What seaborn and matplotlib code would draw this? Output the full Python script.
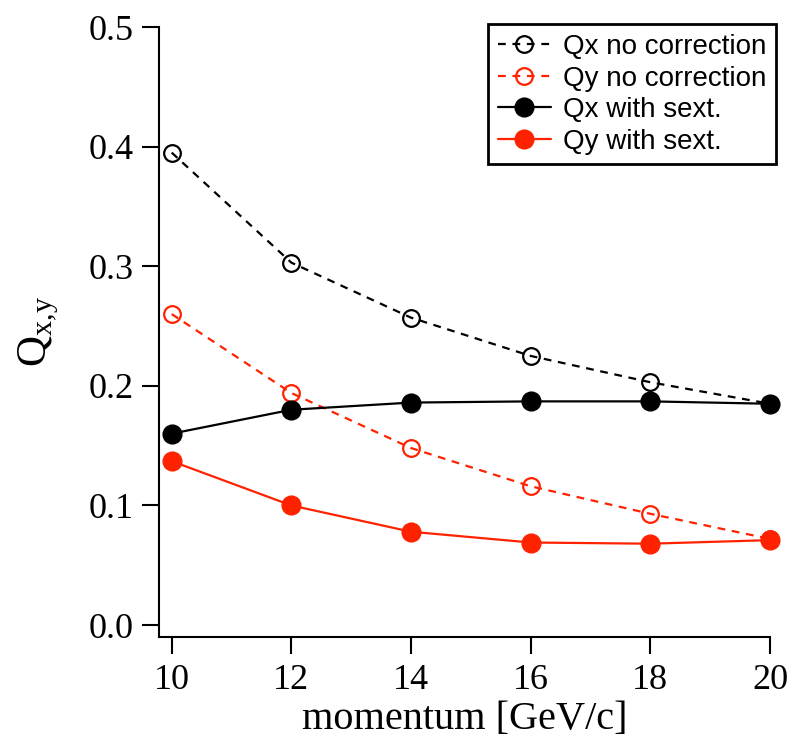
import matplotlib
matplotlib.use("Agg")
import matplotlib.pyplot as plt
import seaborn as sns
import pandas as pd

momentum = [10, 12, 14, 16, 18, 20]
qx_no_corr = [0.395, 0.303, 0.257, 0.225, 0.203, 0.185]
qy_no_corr = [0.260, 0.194, 0.148, 0.116, 0.093, 0.072]
qx_sext = [0.160, 0.180, 0.186, 0.187, 0.187, 0.185]
qy_sext = [0.137, 0.100, 0.078, 0.069, 0.068, 0.071]
labels = ["Qx no correction", "Qy no correction", "Qx with sext.", "Qy with sext."]
x_ticks = [10, 12, 14, 16, 18, 20]
y_ticks = [0.0, 0.1, 0.2, 0.3, 0.4, 0.5]

sns.set_style("ticks")
plt.rcParams["font.family"] = ["Liberation Serif", "DejaVu Serif"]
plt.rcParams["mathtext.fontset"] = "custom"
plt.rcParams["mathtext.rm"] = "Liberation Serif"
plt.rcParams["text.color"] = "black"
plt.rcParams["axes.labelcolor"] = "black"

RED = "#ff2200"
fig = plt.figure(figsize=(7.89, 7.40), dpi=100)
ax = fig.add_axes([0.2019, 0.1392, 0.774, 0.8243])

series = [
    (qx_no_corr, "black", (0, (3.5, 3)), "none"),
    (qy_no_corr, RED, (0, (3.5, 3)), "none"),
    (qx_sext, "black", "-", "black"),
    (qy_sext, RED, "-", RED),
]
for (vals, col, ls, fc), lab in zip(series, labels):
    df = pd.DataFrame({"p": momentum, "q": vals})
    filled = fc != "none"
    sns.lineplot(data=df, x="p", y="q", ax=ax, color=col, linestyle=ls,
                 linewidth=1.6, marker="o", markersize=13.5 if filled else 12,
                 markerfacecolor=fc, markeredgecolor=col,
                 markeredgewidth=1.0 if filled else 1.6,
                 label=lab, clip_on=False, zorder=3)

ax.set_xlim(9.793, 20.0)
ax.set_ylim(-0.010, 0.5)
ax.set_xticks(x_ticks)
ax.set_xticklabels([str(v) for v in x_ticks])
ax.set_yticks(y_ticks)
ax.set_yticklabels([f"{v:.1f}" for v in y_ticks])
ax.tick_params(axis="both", direction="out", length=12.5, width=1.5, labelsize=26,
               colors="black")
ax.tick_params(axis="x", pad=7)
ax.tick_params(axis="y", pad=6)
for s in ["top", "right"]:
    ax.spines[s].set_visible(False)
for s in ["left", "bottom"]:
    ax.spines[s].set_linewidth(1.5)
    ax.spines[s].set_color("black")

ax.set_xlabel("momentum [GeV/c]", fontsize=29, labelpad=3)
ax.set_ylabel(r"Q$_{\mathrm{x{,}y}}$", fontsize=31, labelpad=20)

leg = ax.legend(loc="upper right", bbox_to_anchor=(1.024, 1.018), frameon=True,
                fancybox=False, edgecolor="black", framealpha=1,
                prop={"family": "Liberation Sans", "size": 20},
                handlelength=1.9, handletextpad=0.45, labelspacing=0.2,
                borderpad=0.35, borderaxespad=0.3)
leg.get_frame().set_linewidth(2.0)
for t in leg.get_texts():
    t.set_color("black")

fig.savefig("out.png", dpi=100)
